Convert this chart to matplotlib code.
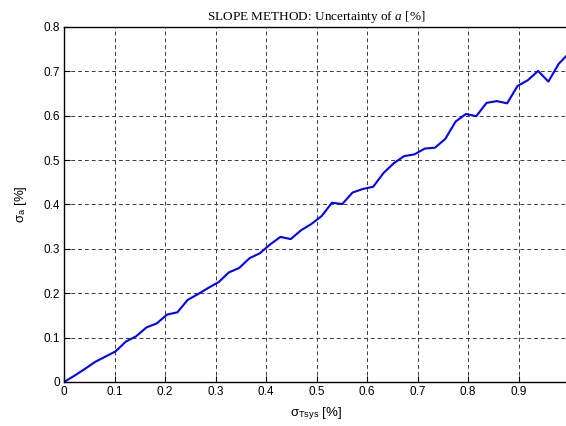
import numpy as np
import matplotlib
matplotlib.use("Agg")
import matplotlib.pyplot as plt

plt.rcParams["font.family"] = ["Liberation Sans", "DejaVu Sans"]
plt.rcParams["mathtext.fontset"] = "custom"
plt.rcParams["mathtext.rm"] = "Liberation Sans"
plt.rcParams["mathtext.it"] = "Liberation Serif:italic"

# Data
sigma_tsys = np.linspace(0, 1, 50)
sigma_a = [0.000, 0.014, 0.029, 0.045, 0.057, 0.069, 0.091, 0.103, 0.123, 0.132,
           0.152, 0.157, 0.185, 0.198, 0.212, 0.225, 0.247, 0.257, 0.279, 0.290,
           0.310, 0.327, 0.322, 0.342, 0.356, 0.374, 0.404, 0.401, 0.427, 0.435,
           0.440, 0.471, 0.493, 0.509, 0.513, 0.526, 0.528, 0.548, 0.587, 0.604,
           0.599, 0.629, 0.633, 0.628, 0.667, 0.680, 0.701, 0.677, 0.717, 0.741]

xticks = [0, 0.1, 0.2, 0.3, 0.4, 0.5, 0.6, 0.7, 0.8, 0.9]
xtick_labels = ["0", "0.1", "0.2", "0.3", "0.4", "0.5", "0.6", "0.7", "0.8", "0.9"]
yticks = [0, 0.1, 0.2, 0.3, 0.4, 0.5, 0.6, 0.7, 0.8]
ytick_labels = ["0", "0.1", "0.2", "0.3", "0.4", "0.5", "0.6", "0.7", "0.8"]

fig = plt.figure(figsize=(5.66, 4.26), dpi=100)
ax = fig.add_axes([64 / 566, 44 / 426, 505 / 566, 355 / 426])

ax.plot(sigma_tsys, sigma_a, color="#0000ff", linewidth=1.5)

ax.set_xlim(0, 1)
ax.set_ylim(0, 0.8)
ax.set_xticks(xticks)
ax.set_xticklabels(xtick_labels)
ax.set_yticks(yticks)
ax.set_yticklabels(ytick_labels)
ax.tick_params(direction="in", length=4, width=0.8, labelsize=8.5, pad=3)
ax.grid(True, color="#3a3a3a", linestyle=(0, (4, 3)), linewidth=0.7)
for s in ax.spines.values():
    s.set_linewidth(1.0)

ax.set_title("SLOPE METHOD: Uncertainty of $a$ [%]", family="Liberation Serif",
             fontsize=9.5, pad=5)
ax.set_xlabel(r"σ$_{\mathrm{Tsys}}$ [%]", fontsize=9.5, labelpad=5)
ax.set_ylabel(r"σ$_{\mathrm{a}}$ [%]", fontsize=9.5, labelpad=10)

fig.savefig("out.png", dpi=100)
